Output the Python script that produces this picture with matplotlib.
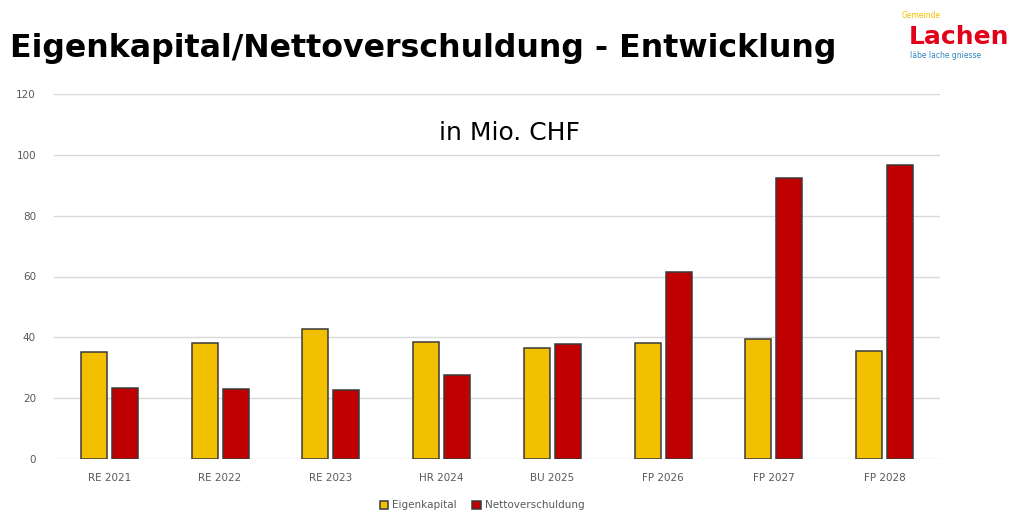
import matplotlib.pyplot as plt
import numpy as np

categories = ["RE 2021", "RE 2022", "RE 2023", "HR 2024", "BU 2025", "FP 2026", "FP 2027", "FP 2028"]
eigenkapital = [35.2, 38.0, 42.8, 38.5, 36.6, 38.3, 39.6, 35.6]
nettoverschuldung = [23.2, 23.1, 22.7, 27.7, 37.8, 61.6, 92.5, 96.8]
y_ticks = [0, 20, 40, 60, 80, 100, 120]

YELLOW = "#F2C000"
RED = "#C00000"
EDGE = "#3a3a3a"

fig = plt.figure(figsize=(10.12, 5.11), dpi=100)
ax = fig.add_axes([54 / 1012, 1 - 459 / 511, 886 / 1012, 365 / 511])

x = np.arange(len(categories))
w = 0.235
off = 0.14
ax.bar(x - off, eigenkapital, w, color=YELLOW, edgecolor=EDGE, linewidth=1.1,
       label="Eigenkapital", zorder=3)
ax.bar(x + off, nettoverschuldung, w, color=RED, edgecolor=EDGE, linewidth=1.1,
       label="Nettoverschuldung", zorder=3)

ax.set_xlim(-0.5, len(categories) - 0.5)
ax.set_ylim(0, 120)
ax.set_yticks(y_ticks)
ax.set_xticks(x)
ax.set_xticklabels(categories)
ax.tick_params(axis="both", length=0, labelsize=7.5, labelcolor="#595959")
ax.tick_params(axis="x", pad=10)
ax.tick_params(axis="y", pad=13)
ax.grid(axis="y", color="#d9d9d9", linewidth=1, zorder=0)
for s in ax.spines.values():
    s.set_visible(False)

ax.legend(loc="upper center", bbox_to_anchor=(0.483, -0.088), ncol=2, frameon=False,
          fontsize=7.5, labelcolor="#595959", handlelength=0.8, handleheight=0.8,
          handletextpad=0.4, columnspacing=1.5)

# titles
fig.text(10 / 1012, 1 - 57 / 511, "Eigenkapital/Nettoverschuldung - Entwicklung",
         fontsize=22.8, fontweight="bold", color="black", ha="left", va="baseline")
fig.text(510 / 1012, 1 - 133 / 511, "in Mio. CHF", fontsize=18, ha="center",
         va="center", color="black")

# logo
fig.text(902 / 1012, 1 - 16 / 511, "Gemeinde", fontsize=5.5, color="#F2C000",
         ha="left", va="center")
fig.text(909 / 1012, 1 - 44 / 511, "Lachen", fontsize=18, fontweight="bold",
         color="#E2001A", ha="left", va="baseline")
fig.text(910 / 1012, 1 - 55 / 511, "läbe lache gniesse", fontsize=5.5,
         color="#2E86C1", ha="left", va="center")

fig.savefig("out.png", dpi=100)
